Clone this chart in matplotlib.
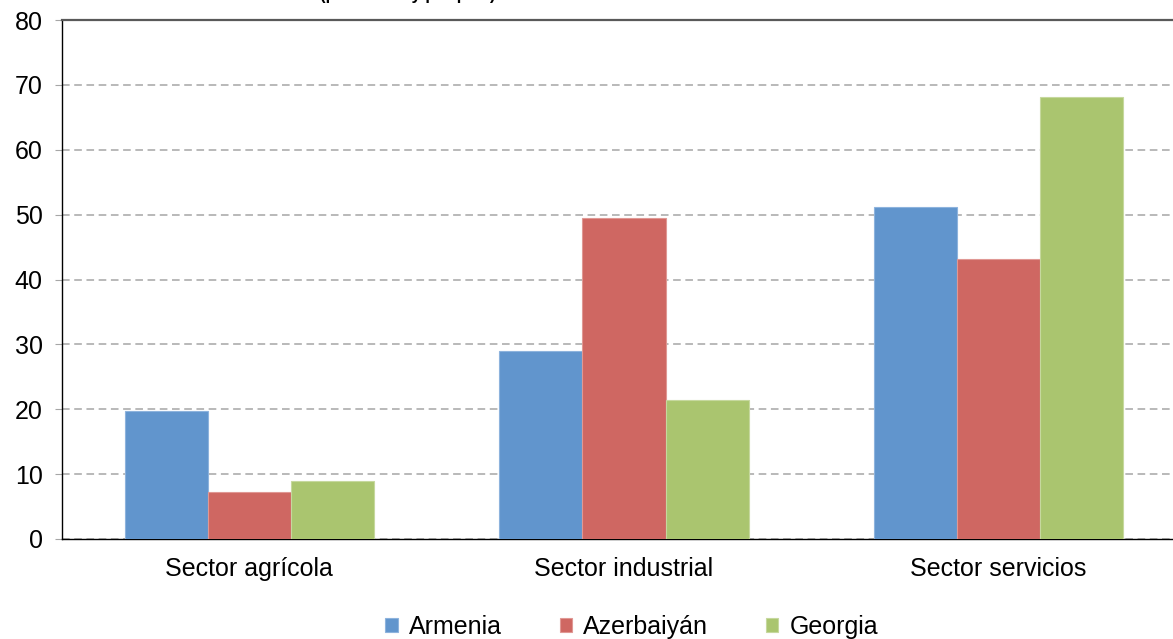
import numpy as np
import matplotlib.pyplot as plt

plt.rcParams['font.family'] = ['Liberation Sans', 'DejaVu Sans']

sectors = ["Sector agrícola", "Sector industrial", "Sector servicios"]
countries = ["Armenia", "Azerbaiyán", "Georgia"]
armenia = [19.7, 29.0, 51.2]
azerbaiyan = [7.2, 49.5, 43.2]
georgia = [8.9, 21.4, 68.1]
colors = ["#6195CD", "#CF6762", "#AAC56F"]
edges = ["#8DB3DD", "#E09894", "#C6D89E"]

fig = plt.figure(figsize=(11.73, 6.39), dpi=100)
ax = fig.add_axes([62 / 1173, 100 / 639, 1124 / 1173, 519 / 639])

x = np.arange(len(sectors))
w = 0.222
for i, (vals, c, ec, name) in enumerate(zip([armenia, azerbaiyan, georgia], colors, edges, countries)):
    ax.bar(x + (i - 1) * w, vals, width=w, color=c, edgecolor=ec, linewidth=0.8,
           label=name, zorder=3)

ax.set_xlim(-0.5, 2.5)
ax.set_ylim(0, 80)
ax.set_yticks(range(0, 81, 10))
ax.yaxis.grid(True, linestyle=(0, (5, 3)), color="#A6A6A6", linewidth=1.1, zorder=0)
ax.tick_params(axis='y', length=5, color="#A6A6A6", labelsize=18, pad=9)
ax.tick_params(axis='x', length=0, labelsize=18, pad=13)
ax.set_xticks(x)
ax.set_xticklabels(sectors)

ax.spines['top'].set_color("#595959")
ax.spines['top'].set_linewidth(1.6)
ax.spines['right'].set_visible(False)
ax.spines['left'].set_linewidth(1.0)
ax.spines['bottom'].set_linewidth(1.0)

# title sits above the visible area, only its lower edge shows
fig.text(320 / 1173, 1.0, "(por sector y por país)", fontsize=12, fontweight='bold',
         ha='left', va='baseline')

ax.legend(loc='center', bbox_to_anchor=(0.507, -0.170),
          ncol=3, frameon=False, fontsize=18, handlelength=0.5, handleheight=0.5,
          handletextpad=0.45, columnspacing=2.3, borderaxespad=0)

fig.savefig("out.png", dpi=100)
